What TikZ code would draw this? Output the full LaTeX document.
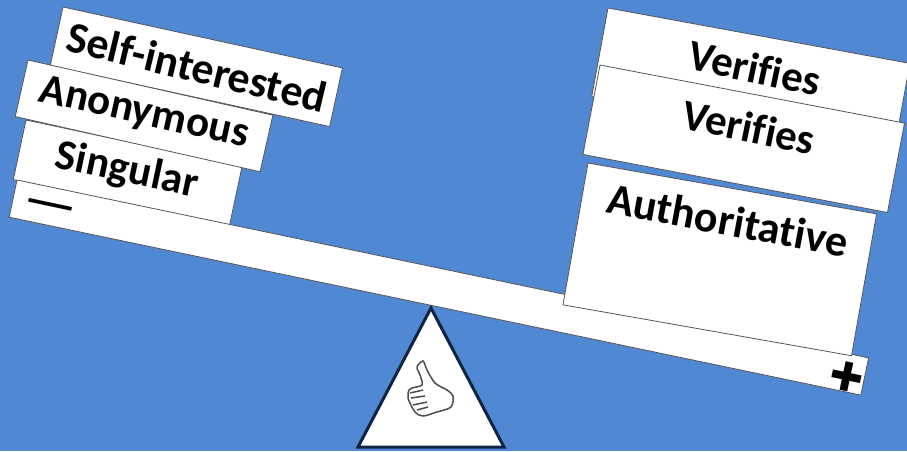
\documentclass[tikz,border=0pt]{standalone}
\usepackage{fontspec}
\setmainfont{Carlito}[Ligatures=CommonOff]
\newfontfamily\signfont{DejaVu Sans}
\definecolor{skyback}{HTML}{5088D4}
\definecolor{edgegray}{HTML}{555555}
\definecolor{basenavy}{HTML}{0E2440}
\tikzset{
  plank/.style={draw=edgegray, line width=0.8pt, fill=white, inner sep=0pt, outer sep=0pt, anchor=north west},
  word/.style={inner sep=0pt, font=\fontsize{43}{46}\selectfont\bfseries},
  hand/.style={black!70, line width=1.5pt},
}
\begin{document}
\begin{tikzpicture}[x=1pt, y=-1pt]
\clip (0,0) rectangle (907,451);
\fill[skyback] (0,0) rectangle (907,451);
% left pile
\node[plank, rotate=-12.3, minimum width=286pt, minimum height=60pt] at (63,7) (self) {};
\node[plank, rotate=-12, minimum width=221pt, minimum height=61pt] at (26,120) (single) {};
\node[plank, rotate=-12.7, minimum width=251pt, minimum height=58pt] at (28,60) (anon) {};
% beam
\node[plank, rotate=-11.8, minimum width=870pt, minimum height=38pt] at (17,180) (beam) {};
% right pile
\node[plank, rotate=-10.4, minimum width=307pt, minimum height=90pt] at (608,8) (verify) {};
\node[plank, rotate=-10, minimum width=293pt, minimum height=144pt] at (588,163) (auth) {};
\node[plank, rotate=-10.8, minimum width=310pt, minimum height=91pt] at (600,65) (check) {};
% labels
\node[word, rotate=-13.5, font=\fontsize{44}{46}\selectfont\bfseries] at (197,67) (selftext) {Self-interested};
\node[word, rotate=-12.5] at (144,114) (anontext) {Anonymous};
\node[word, rotate=-12] at (127,171) (singletext) {Singular};
\node[word, rotate=-12] at (755,68) (verifytext) {Verifies};
\node[word, rotate=-11.5] at (749,127) (checktext) {Verifies};
\node[word, rotate=-10.5, font=\fontsize{44}{46}\selectfont\bfseries] at (728,220) (authtext) {Authoritative};
\node[word, rotate=-12, font=\fontsize{60}{60}\selectfont] at (49,212) (minus) {—};
\node[word, rotate=-12, font=\fontsize{40}{40}\selectfont\signfont] at (847,377) (plus) {✚};
% fulcrum
\coordinate (top) at (431,308);
\coordinate (left) at (358,447);
\coordinate (right) at (504,447);
\draw[basenavy, line width=3pt, fill=white, line join=miter] (top) -- (left) -- (right) -- cycle;
\draw[hand] plot[smooth cycle, tension=0.5] coordinates {(423,361) (427,370) (435,383) (447,390) (453,396) (451,407) (437,412) (423,416) (415,412) (408,398) (410,389) (422,385) (420,375) (417,367)};
\draw[hand] (410,393) -- (423,390);
\draw[hand] (411,398) -- (425,396);
\draw[hand] (413,405) -- (427,402);
\draw[hand] (417,410) -- (428,407);
\end{tikzpicture}
\end{document}
